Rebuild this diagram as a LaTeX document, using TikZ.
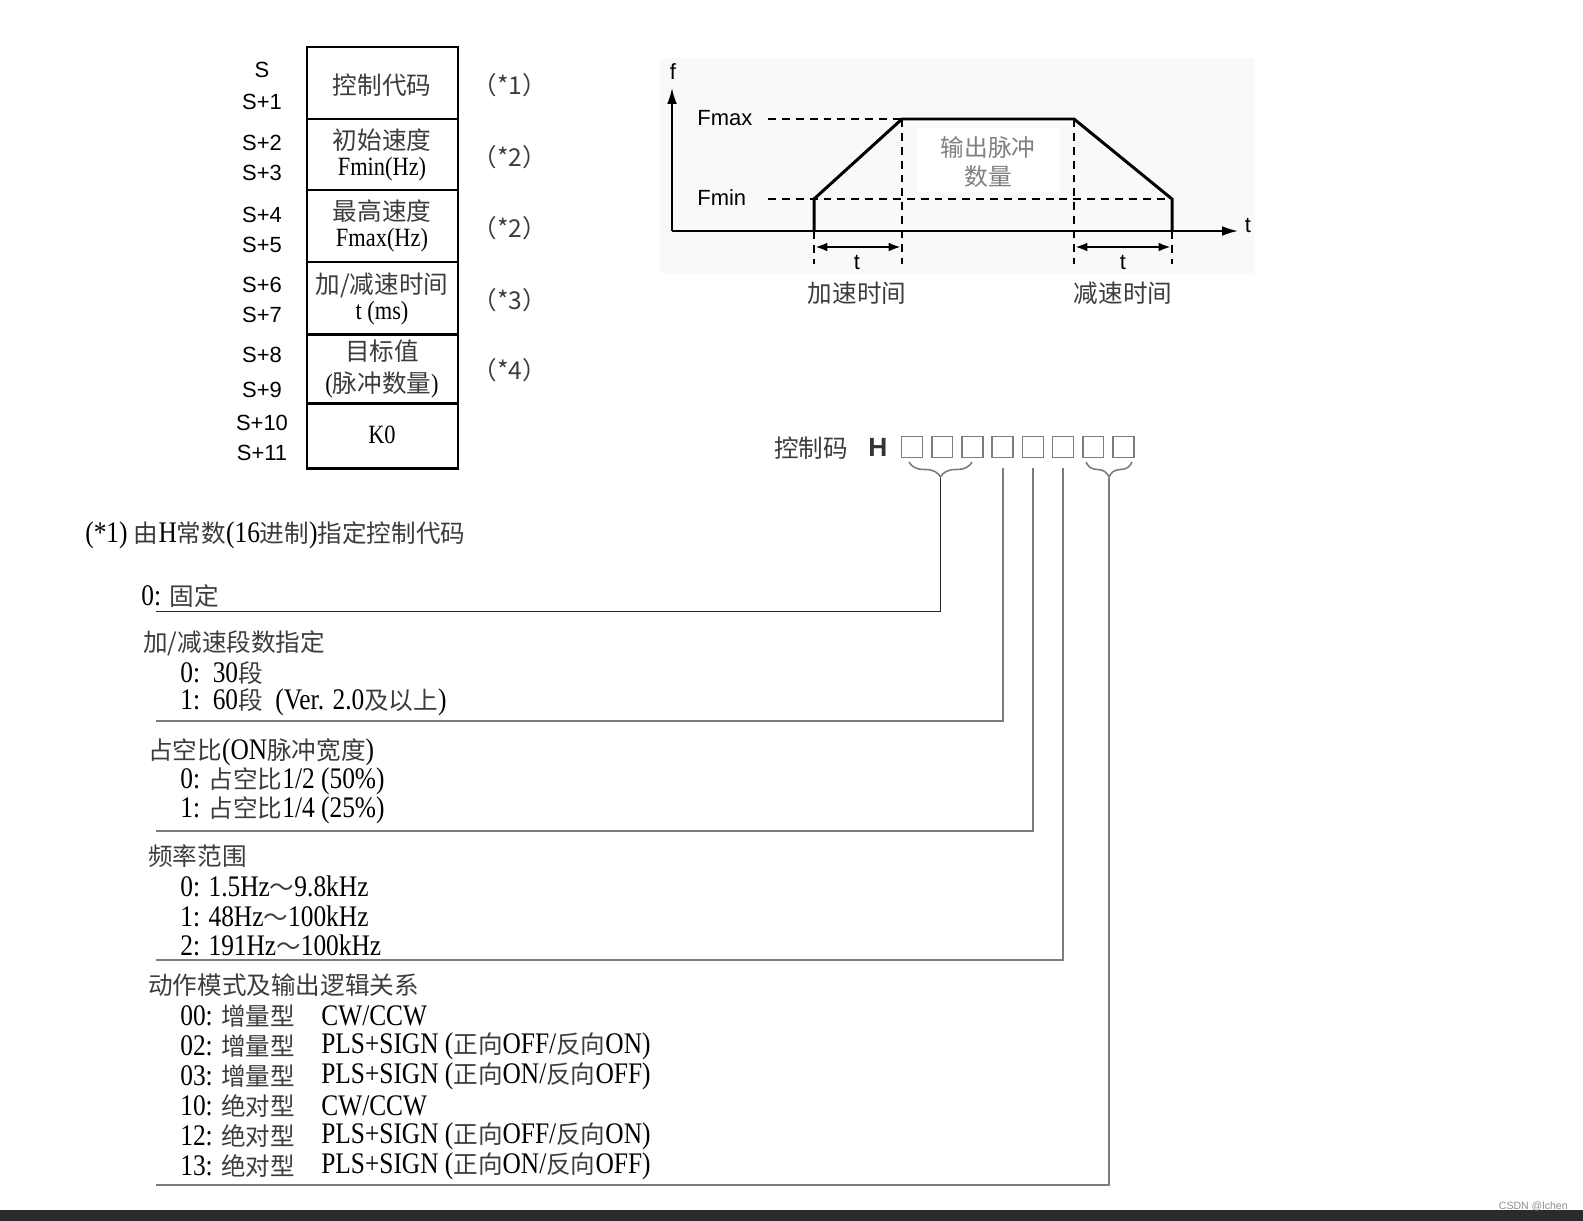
\documentclass[tikz,border=0pt]{standalone}
\usepackage{fontspec}
\usepackage{xcolor}
\usetikzlibrary{arrows.meta,decorations.pathreplacing}
\setmainfont{Liberation Serif}
\newfontfamily\cjkfont{Noto Sans CJK SC}
\newfontfamily\arialfont{Liberation Sans}
\newfontfamily\narrowfont[FakeStretch=0.85]{Liberation Serif}
\definecolor{cjkgray}{RGB}{60,60,60}
\definecolor{linegray}{RGB}{125,125,125}
\definecolor{bargray}{RGB}{43,43,43}
\newcommand{\zh}[1]{{\cjkfont\fontsize{14}{17}\selectfont\color{cjkgray}#1}}
\newcommand{\latfont}{\narrowfont\fontsize{17}{20}\selectfont}
\newcommand{\cellfont}{\narrowfont\fontsize{15}{15}\selectfont}
\newcommand{\sansfont}{\arialfont\fontsize{12.5}{15}\selectfont}

\begin{document}
\begin{tikzpicture}[x=0.02cm,y=-0.02cm,>={Latex[length=7pt,width=5pt]},
    tbl/.style={line width=1.7pt},
    cell/.style={align=center,inner sep=0pt,font=\cellfont},
    addr/.style={inner sep=0pt,font=\sansfont},
    axis/.style={line width=1pt,-{Latex[length=9pt,width=5.5pt]}},
    pulse/.style={line width=1.7pt,line join=miter},
    guide/.style={line width=0.9pt,dash pattern=on 4.5pt off 3.4pt},
    dim/.style={line width=1.4pt},
    bitbox/.style={draw=linegray,line width=0.9pt,minimum size=0.42cm,inner sep=0pt},
    tie/.style={draw=linegray,line width=1.1pt},
    txt/.style={anchor=west,inner sep=0pt,font=\latfont}]
    \useasboundingbox (0,0) rectangle (1583,1221);

    % register table
    \draw[tbl] (307,47) rectangle (458,468);
    \draw[tbl] (307,119) -- (458,119);
    \draw[tbl] (307,190) -- (458,190);
    \draw[tbl] (307,262) -- (458,262);
    \draw[tbl] (307,334) -- (458,334);
    \draw[tbl] (307,403) -- (458,403);

    \node[cell] (code) at (382,85) {\zh{控制代码}};
    \node[cell] (fminreg) at (382,155) {\zh{初始速度}\\Fmin(Hz)};
    \node[cell] (fmaxreg) at (382,226) {\zh{最高速度}\\Fmax(Hz)};
    \node[cell] (accreg) at (382,299) {\zh{加/减速时间}\\t (ms)};
    \node[cell] (target) at (382,369) {\zh{目标值}\\[3pt](\zh{脉冲数量})};
    \node[cell] (kzero) at (382,435) {K0};

    \node[addr] (s0) at (262,70) {S};
    \node[addr] (s1) at (262,102) {S+1};
    \node[addr] (s2) at (262,143) {S+2};
    \node[addr] (s3) at (262,173) {S+3};
    \node[addr] (s4) at (262,215) {S+4};
    \node[addr] (s5) at (262,245) {S+5};
    \node[addr] (s6) at (262,285) {S+6};
    \node[addr] (s7) at (262,315) {S+7};
    \node[addr] (s8) at (262,355) {S+8};
    \node[addr] (s9) at (262,390) {S+9};
    \node[addr] (s10) at (262,423) {S+10};
    \node[addr] (s11) at (262,453) {S+11};

    \node[inner sep=0pt] (note1) at (510,85) {\zh{（*1）}};
    \node[inner sep=0pt] (note2) at (510,157) {\zh{（*2）}};
    \node[inner sep=0pt] (note3) at (510,228) {\zh{（*2）}};
    \node[inner sep=0pt] (note4) at (510,300) {\zh{（*3）}};
    \node[inner sep=0pt] (note5) at (510,370) {\zh{（*4）}};

    % speed profile
    \fill[black!2.5] (660,58) rectangle (1255,273);
    \fill[white] (917,128) rectangle (1060,192);
    \coordinate (O) at (672,231);
    \draw[axis] (O) -- (672,88);
    \draw[axis] (O) -- (1238,231);
    \node[addr] (flabel) at (673,72) {f};
    \node[addr] (tlabel) at (1248,225) {t};
    \node[addr,anchor=west] (fmax) at (697,118) {Fmax};
    \node[addr,anchor=west] (fmin) at (697,198) {Fmin};

    \coordinate (p1) at (814,231);
    \coordinate (p2) at (814,199);
    \coordinate (p3) at (902,119);
    \coordinate (p4) at (1074,119);
    \coordinate (p5) at (1172,199);
    \coordinate (p6) at (1172,231);
    \draw[guide] (768,119) -- (p3);
    \draw[guide] (768,199) -- (p5);
    \draw[guide] (p3) -- (902,264);
    \draw[guide] (p4) -- (1074,264);
    \draw[guide] (p1) -- (814,264);
    \draw[guide] (p6) -- (1172,264);
    \draw[pulse] (p1) -- (p2) -- (p3) -- (p4) -- (p5) -- (p6);

    \draw[dim,<->] (815,247) -- (901,247);
    \draw[dim,<->] (1075,247) -- (1171,247);
    \node[addr] (tacc) at (857,262) {t};
    \node[addr] (tdec) at (1123,262) {t};
    \node[inner sep=0pt] (acc) at (857,293) {\zh{加速时间}};
    \node[inner sep=0pt] (dec) at (1123,293) {\zh{减速时间}};
    \node[inner sep=0pt,align=center,font=\cjkfont\fontsize{13.5}{16}\selectfont,text=black!50] (amount) at (988,162)
        {输出脉冲\\数量};

    % control code word
    \node[inner sep=0pt] (ctl) at (811,448) {\zh{控制码}};
    \node[inner sep=0pt,font=\arialfont\bfseries\fontsize{15}{17}\selectfont,text=black!80] (hex) at (878,447) {H};
    \node[bitbox] (b1) at (912,447) {};
    \node[bitbox] (b2) at (942.2,447) {};
    \node[bitbox] (b3) at (972.4,447) {};
    \node[bitbox] (b4) at (1002.6,447) {};
    \node[bitbox] (b5) at (1032.8,447) {};
    \node[bitbox] (b6) at (1063,447) {};
    \node[bitbox] (b7) at (1093.2,447) {};
    \node[bitbox] (b8) at (1123.4,447) {};

    \draw[linegray,line width=0.9pt,decorate,decoration={brace,mirror,amplitude=0.3cm}]
        (909,462) -- (972,462);
    \draw[linegray,line width=0.9pt,decorate,decoration={brace,mirror,amplitude=0.3cm}]
        (1086,462) -- (1132,462);
    \coordinate (br1) at (940.5,478);
    \coordinate (br2) at (1109,478);

    \coordinate (e1) at (156,611.5);
    \coordinate (e2) at (156,721);
    \coordinate (e3) at (156,831);
    \coordinate (e4) at (156,960);
    \coordinate (e5) at (156,1185);
    \draw[tie,draw=black!85] (br1) |- (e1);
    \draw[tie] (b4.south) ++(0,10) |- (e2);
    \draw[tie] (b5.south) ++(0,10) |- (e3);
    \draw[tie] (b6.south) ++(0,10) |- (e4);
    \draw[tie] (br2) |- (e5);

    % notes
    \node[txt] (head) at (85,535) {(*1) \zh{由}H\zh{常数}(16\zh{进制})\zh{指定控制代码}};
    \node[txt] (fixed) at (141,596) {0: \zh{固定}};
    \node[txt] (steps) at (143,643) {\zh{加/减速段数指定}};
    \node[txt] (steps0) at (180,673) {0:\ \ 30\zh{段}};
    \node[txt] (steps1) at (180,702) {1:\ \ 60\zh{段}\ \ (Ver. 2.0\zh{及以上})};
    \node[txt] (duty) at (148,752) {\zh{占空比}(ON\zh{脉冲宽度})};
    \node[txt] (duty0) at (180,781) {0: \zh{占空比}1/2 (50\%)};
    \node[txt] (duty1) at (180,810) {1: \zh{占空比}1/4 (25\%)};
    \node[txt] (range) at (148,856) {\zh{频率范围}};
    \node[txt] (range0) at (180,886) {0: 1.5Hz\zh{～}9.8kHz};
    \node[txt] (range1) at (180,916) {1: 48Hz\zh{～}100kHz};
    \node[txt] (range2) at (180,945) {2: 191Hz\zh{～}100kHz};
    \node[txt] (mode) at (148,985) {\zh{动作模式及输出逻辑关系}};
    \node[txt] (mode00) at (180,1016) {00: \zh{增量型}};
    \node[txt] (mode02) at (180,1046) {02: \zh{增量型}};
    \node[txt] (mode03) at (180,1076) {03: \zh{增量型}};
    \node[txt] (mode10) at (180,1106) {10: \zh{绝对型}};
    \node[txt] (mode12) at (180,1136) {12: \zh{绝对型}};
    \node[txt] (mode13) at (180,1166) {13: \zh{绝对型}};
    \node[txt] (sig00) at (321,1016) {CW/CCW};
    \node[txt] (sig02) at (321,1046) {PLS+SIGN (\zh{正向}OFF/\zh{反向}ON)};
    \node[txt] (sig03) at (321,1076) {PLS+SIGN (\zh{正向}ON/\zh{反向}OFF)};
    \node[txt] (sig10) at (321,1106) {CW/CCW};
    \node[txt] (sig12) at (321,1136) {PLS+SIGN (\zh{正向}OFF/\zh{反向}ON)};
    \node[txt] (sig13) at (321,1166) {PLS+SIGN (\zh{正向}ON/\zh{反向}OFF)};

    % page footer
    \fill[bargray] (0,1210) rectangle (1583,1221);
    \node[anchor=east,inner sep=0pt,font=\arialfont\fontsize{6}{7}\selectfont,text=black!45] (mark) at (1568,1206) {CSDN @lchen};
\end{tikzpicture}
\end{document}
